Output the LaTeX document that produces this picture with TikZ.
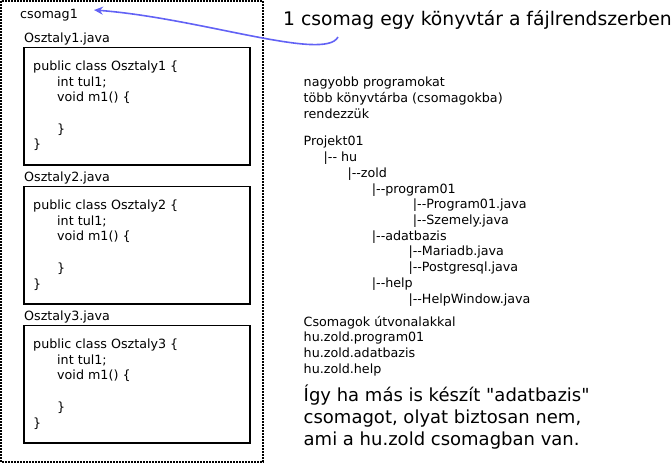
\documentclass[tikz,border=0pt]{standalone}
\usepackage{fontspec}
\setmainfont{DejaVu Sans}
\usetikzlibrary{arrows.meta}
\definecolor{arrowblue}{RGB}{98,98,245}

\begin{document}
\begin{tikzpicture}[x=1pt,y=-1pt]
    \useasboundingbox (0,0) rectangle (672,465);
    \tikzset{txt/.style = {anchor=base west, inner sep=0pt, align=left, font=\fontsize{12.7}{15.7}\selectfont}}
    \tikzset{bigtxt/.style = {txt, font=\fontsize{18}{22}\selectfont}}
    \tikzset{classbox/.style = {draw, line width=1.6pt, anchor=north west, inner sep=0pt, minimum width=226pt, minimum height=117.5pt}}
    \tikzset{pkgframe/.style = {line width=1.8pt, dash pattern=on 1.8pt off 1.2pt}}

    \draw[pkgframe] (1,1) rectangle (263,462);
    \node[txt] (csomag) at (20,19) {csomag1};

    \node[txt] (file1) at (24,42.7) {Osztaly1.java};
    \node[classbox] (box1) at (23,46.7) {};
    \node[txt] (code1) at (33,149) {public class Osztaly1 \{\\\hspace*{24pt}int tul1;\\\hspace*{24pt}void m1() \{\\\mbox{}\\\hspace*{24pt}\}\\\}};

    \node[txt] (file2) at (24,181.7) {Osztaly2.java};
    \node[classbox] (box2) at (23,185.7) {};
    \node[txt] (code2) at (33,288) {public class Osztaly2 \{\\\hspace*{24pt}int tul1;\\\hspace*{24pt}void m1() \{\\\mbox{}\\\hspace*{24pt}\}\\\}};

    \node[txt] (file3) at (24,320.7) {Osztaly3.java};
    \node[classbox] (box3) at (23,324.7) {};
    \node[txt] (code3) at (33,427) {public class Osztaly3 \{\\\hspace*{24pt}int tul1;\\\hspace*{24pt}void m1() \{\\\mbox{}\\\hspace*{24pt}\}\\\}};

    \node[bigtxt, font=\fontsize{18.75}{22}\selectfont] (title) at (283,26) {1 csomag egy könyvtár a fájlrendszerben};
    \node[txt] (intro) at (303.5,118.4) {nagyobb programokat\\több könyvtárba (csomagokba)\\rendezzük};

    \node[txt] (projekt) at (303.5,146) {Projekt01};
    \node[txt] (hu) at (323.5,161.7) {|-{}- hu};
    \node[txt] (zold) at (347.3,177.4) {|-{}-zold};
    \node[txt] (program) at (371.7,193.1) {|-{}-program01};
    \node[txt] (programjava) at (412.7,208.8) {|-{}-Program01.java};
    \node[txt] (szemely) at (412.7,224.5) {|-{}-Szemely.java};
    \node[txt] (adatbazis) at (371.7,240.2) {|-{}-adatbazis};
    \node[txt] (mariadb) at (408.3,255.9) {|-{}-Mariadb.java};
    \node[txt] (postgres) at (408.3,271.6) {|-{}-Postgresql.java};
    \node[txt] (help) at (371.7,287.3) {|-{}-help};
    \node[txt] (helpwindow) at (408.3,303) {|-{}-HelpWindow.java};

    \node[txt] (utvonal) at (303.5,373.1) {Csomagok útvonalakkal\\hu.zold.program01\\hu.zold.adatbazis\\hu.zold.help};
    \node[bigtxt] (note) at (303.5,445) {Így ha más is készít \textquotedbl adatbazis\textquotedbl\\csomagot, olyat biztosan nem,\\ami a hu.zold csomagban van.};

    \coordinate (tail) at (338,37);
    \coordinate (tip) at (94,10);
    \draw[arrowblue, line width=1.6pt, -{Stealth[length=9pt, width=8pt, inset=3pt]}] (tail) .. controls (325,62) and (200,18) .. (tip);
\end{tikzpicture}
\end{document}
